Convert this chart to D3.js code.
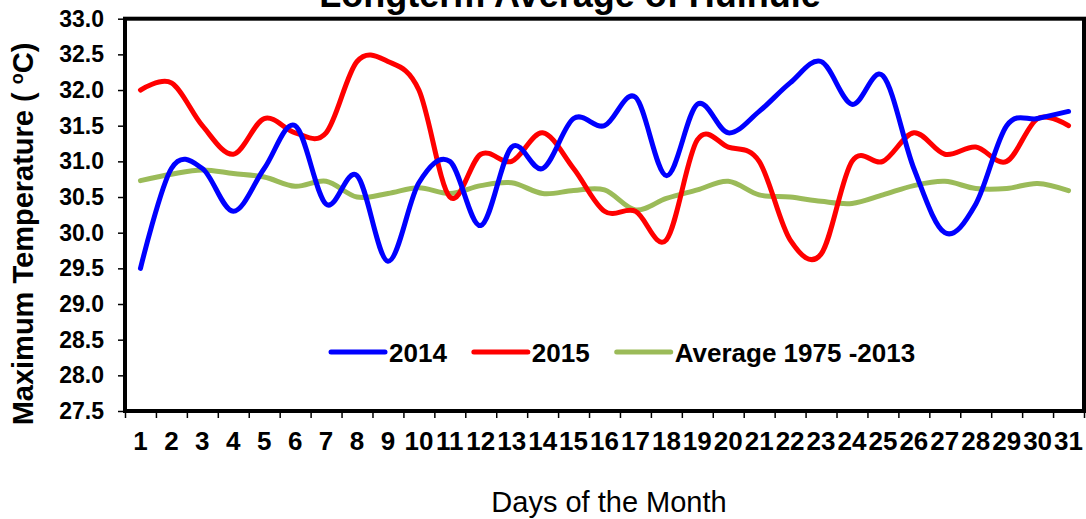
<!DOCTYPE html>
<html>
<head>
<meta charset="utf-8">
<script src="https://cdn.jsdelivr.net/npm/d3@7"></script>
<style>
body{margin:0;background:#fff;}
svg text{font-family:Arial,"Liberation Sans",sans-serif;fill:#000;}
</style>
</head>
<body>
<svg id="chart" width="1086" height="519"></svg>
<script>
var days = [1,2,3,4,5,6,7,8,9,10,11,12,13,14,15,16,17,18,19,20,21,22,23,24,25,26,27,28,29,30,31];
var temp2014 = [29.5,30.9,30.9,30.3,30.9,31.5,30.4,30.8,29.6,30.7,31.0,30.1,31.2,30.9,31.6,31.5,31.9,30.8,31.8,31.4,31.7,32.1,32.4,31.8,32.2,30.9,30.0,30.4,31.5,31.6,31.7];
var temp2015 = [32.0,32.1,31.5,31.1,31.6,31.4,31.4,32.4,32.4,32.0,30.5,31.1,31.0,31.4,30.9,30.3,30.3,29.9,31.3,31.2,31.0,29.9,29.7,31.0,31.0,31.4,31.1,31.2,31.0,31.6,31.5];
var tempAverage = [30.73,30.82,30.88,30.83,30.78,30.65,30.72,30.50,30.55,30.63,30.55,30.66,30.70,30.55,30.59,30.60,30.32,30.48,30.60,30.72,30.53,30.50,30.44,30.41,30.53,30.66,30.72,30.62,30.62,30.69,30.59];
var yTicks = [27.5,28.0,28.5,29.0,29.5,30.0,30.5,31.0,31.5,32.0,32.5,33.0];
var seriesNames = ["2014","2015","Average 1975 -2013"];
var seriesColors = ["#0000ff","#ff0000","#9bbb59"];

var TempChart = function(){
	var _this = this;

	_this.box = {left:125, right:1084, top:18.7, bottom:411};

	_this.init = function(elementTag){
		_this.svg = d3.select(elementTag);
		var b = _this.box;

		_this.x = d3.scaleBand().domain(days).range([b.left, b.right]);
		_this.xEdge = d3.scaleLinear().domain([0, days.length]).range([b.left, b.right]);
		_this.y = d3.scaleLinear().domain([27.5, 33]).range([b.bottom, b.top]);

		_this.drawAxes();
		_this.drawLines();
		_this.drawFrame();
		_this.drawLegend();
		_this.drawTitles();
	};

	_this.drawAxes = function(){
		var b = _this.box;
		var yAxis = d3.axisLeft(_this.y)
			.tickValues(yTicks)
			.tickFormat(d3.format(".1f"))
			.tickSize(7)
			.tickPadding(14);
		var gY = _this.svg.append("g")
			.attr("transform", "translate(" + b.left + ",0)")
			.call(yAxis);
		gY.select(".domain").remove();
		gY.selectAll("text").style("font-size", "23px").style("font-weight", "bold");
		gY.selectAll("line").attr("stroke-width", 1.5);

		// category boundaries get the tick marks
		var edgeAxis = d3.axisBottom(_this.xEdge)
			.tickValues(d3.range(days.length + 1))
			.tickFormat("")
			.tickSize(7);
		var gE = _this.svg.append("g")
			.attr("transform", "translate(0," + b.bottom + ")")
			.call(edgeAxis);
		gE.select(".domain").remove();
		gE.selectAll("line").attr("stroke-width", 1.5);

		var xAxis = d3.axisBottom(_this.x)
			.tickSize(0)
			.tickPadding(21);
		var gX = _this.svg.append("g")
			.attr("transform", "translate(0," + b.bottom + ")")
			.call(xAxis);
		gX.select(".domain").remove();
		gX.selectAll("text").style("font-size", "26px").style("font-weight", "bold");
	};

	_this.drawLines = function(){
		var half = _this.x.bandwidth() / 2;
		var line = d3.line()
			.x(function(d, i){ return _this.x(days[i]) + half; })
			.y(function(d){ return _this.y(d); })
			.curve(d3.curveCardinal.tension(0));

		var all = [tempAverage, temp2015, temp2014];
		var cols = [seriesColors[2], seriesColors[1], seriesColors[0]];
		_this.svg.append("g").selectAll("path")
			.data(all)
			.join("path")
			.attr("d", line)
			.attr("fill", "none")
			.attr("stroke", function(d, i){ return cols[i]; })
			.attr("stroke-width", 5)
			.attr("stroke-linecap", "round")
			.attr("stroke-linejoin", "round");
	};

	_this.drawFrame = function(){
		var b = _this.box;
		_this.svg.append("rect")
			.attr("x", b.left)
			.attr("y", b.top)
			.attr("width", b.right - b.left)
			.attr("height", b.bottom - b.top)
			.attr("fill", "none")
			.attr("stroke", "#000")
			.attr("stroke-width", 4);
	};

	_this.drawLegend = function(){
		var g = _this.svg.append("g").attr("transform", "translate(331,352)");
		var pos = 0;
		seriesNames.forEach(function(name, i){
			g.append("line")
				.attr("x1", pos).attr("x2", pos + 54)
				.attr("y1", 0).attr("y2", 0)
				.attr("stroke", seriesColors[i])
				.attr("stroke-width", 5)
				.attr("stroke-linecap", "round");
			var t = g.append("text")
				.attr("x", pos + 58)
				.attr("y", 9.5)
				.style("font-size", "26px")
				.style("font-weight", "bold")
				.text(name);
			pos = pos + 58 + t.node().getComputedTextLength() + 27;
		});
	};

	_this.drawTitles = function(){
		_this.svg.append("text")
			.attr("x", 570)
			.attr("y", 7)
			.attr("text-anchor", "middle")
			.style("font-size", "36px")
			.style("font-weight", "bold")
			.text("Longterm Average of Hulhule");

		var yt = _this.svg.append("text")
			.attr("transform", "translate(33,234) rotate(-90)")
			.attr("text-anchor", "middle")
			.style("font-size", "29px")
			.style("font-weight", "bold");
		yt.append("tspan").text("Maximum Temperature ( ");
		yt.append("tspan").attr("dy", -10).style("font-size", "18px").text("o");
		yt.append("tspan").attr("dy", 10).text("C)");

		_this.svg.append("text")
			.attr("x", 609)
			.attr("y", 512)
			.attr("text-anchor", "middle")
			.style("font-size", "29px")
			.text("Days of the Month");
	};
};

var _TempChart = new TempChart();
_TempChart.init("#chart");
</script>
</body>
</html>
